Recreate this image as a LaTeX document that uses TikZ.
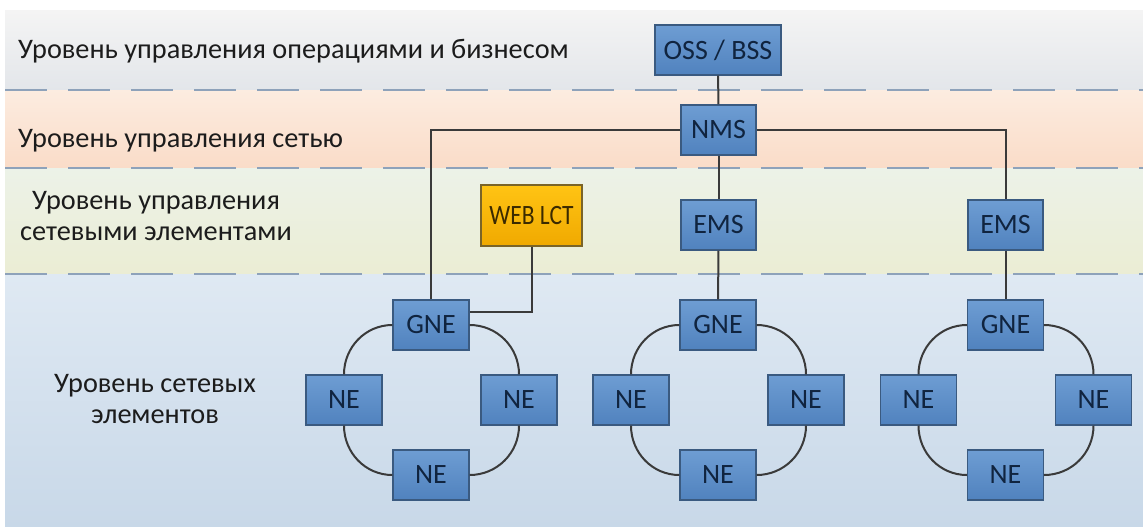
\documentclass[tikz,border=0pt]{standalone}
\usepackage{fontspec}
\setmainfont{Carlito}
\definecolor{boxline}{HTML}{3A5A80}
\definecolor{boxtop}{HTML}{6E9DD3}
\definecolor{boxbot}{HTML}{5082BE}
\definecolor{boxtext}{HTML}{10243F}
\definecolor{webtop}{HTML}{FFC414}
\definecolor{webbot}{HTML}{F0A900}
\definecolor{webline}{HTML}{7A6428}
\definecolor{webtext}{HTML}{3B2A00}
\definecolor{linec}{HTML}{3A3A3A}
\definecolor{dashc}{HTML}{8EA2BA}
\definecolor{lbltext}{HTML}{1C1C1C}
\begin{document}
\begin{tikzpicture}[x=1pt,y=-1pt,
  box/.style={draw=boxline, line width=1.3pt, top color=boxtop, bottom color=boxbot,
    minimum width=75pt, minimum height=50pt, inner sep=0pt,
    font=\fontsize{28}{31}\selectfont, text=boxtext},
  webbox/.style={box, draw=webline, top color=webtop, bottom color=webbot, text=webtext,
    minimum width=101pt, minimum height=61pt},
  link/.style={draw=linec, line width=2pt},
  sep/.style={draw=dashc, line width=2.5pt, dash pattern=on 42pt off 21pt},
  lbl/.style={font=\fontsize{28.3}{31}\selectfont, text=lbltext, inner sep=0pt}]
\useasboundingbox (0,0) rectangle (1143,527);
\fill[white] (0,0) rectangle (1143,527);
% bands
\shade[top color={rgb,255:red,244;green,244;blue,244}, bottom color={rgb,255:red,227;green,230;blue,234}] (5,11) rectangle (1143,90);
\shade[top color={rgb,255:red,252;green,236;blue,224}, bottom color={rgb,255:red,250;green,220;blue,200}] (5,90) rectangle (1143,168);
\shade[top color={rgb,255:red,236;green,242;blue,232}, bottom color={rgb,255:red,235;green,237;blue,212}] (5,168) rectangle (1143,274);
\shade[top color={rgb,255:red,223;green,233;blue,243}, bottom color={rgb,255:red,200;green,216;blue,232}] (5,274) rectangle (1143,527);
% separators
\draw[sep] (5,90) -- (1143,90);
\draw[sep] (5,168) -- (1143,168);
\draw[sep] (5,274) -- (1143,274);
% labels
\node[lbl, anchor=base west] (l1) at (18,59) {Уровень управления операциями и бизнесом};
\node[lbl, anchor=base west] (l2) at (18,147) {Уровень управления сетью};
\node[lbl, align=center] (l3) at (156,216) {Уровень управления\\сетевыми элементами};
\node[lbl, align=center] (l4) at (155,399) {Уровень сетевых\\элементов};
% nodes
\node[box, minimum width=126pt] (oss) at (718,50) {OSS / BSS};
\node[box] (nms) at (718.5,130) {NMS};
\node[webbox] (web) at (531.5,215.5) {\scalebox{0.84}[1]{WEB LCT}};
\node[box] (ems1) at (718.5,225) {EMS};
\node[box] (ems2) at (1005.5,225) {EMS};
\foreach \x/\i in {431/1,718/2,1005.5/3}{
  \node[box, minimum width=76pt] (g\i) at (\x,325) {GNE};
  \node[box, minimum width=76pt] (nl\i) at (\x-87,400) {NE};
  \node[box, minimum width=76pt] (nr\i) at (\x+88,400) {NE};
  \node[box, minimum width=76pt] (nb\i) at (\x,475) {NE};
  \draw[link] (g\i.west) to[out=180,in=90] (nl\i.north);
  \draw[link] (nl\i.south) to[out=-90,in=180] (nb\i.west);
  \draw[link] (nb\i.east) to[out=0,in=-90] (nr\i.south);
  \draw[link] (nr\i.north) to[out=90,in=0] (g\i.east);
}
% connectors
\draw[link] (oss) -- (nms);
\draw[link] (nms.west) -| (g1.north);
\draw[link] (nms.east) -| (ems2.north);
\draw[link] (nms) -- (ems1);
\draw[link] (ems1) -- (g2);
\draw[link] (ems2) -- (g3);
\draw[link] (web.south) |- ([yshift=13pt]g1.east);
\end{tikzpicture}
\end{document}
